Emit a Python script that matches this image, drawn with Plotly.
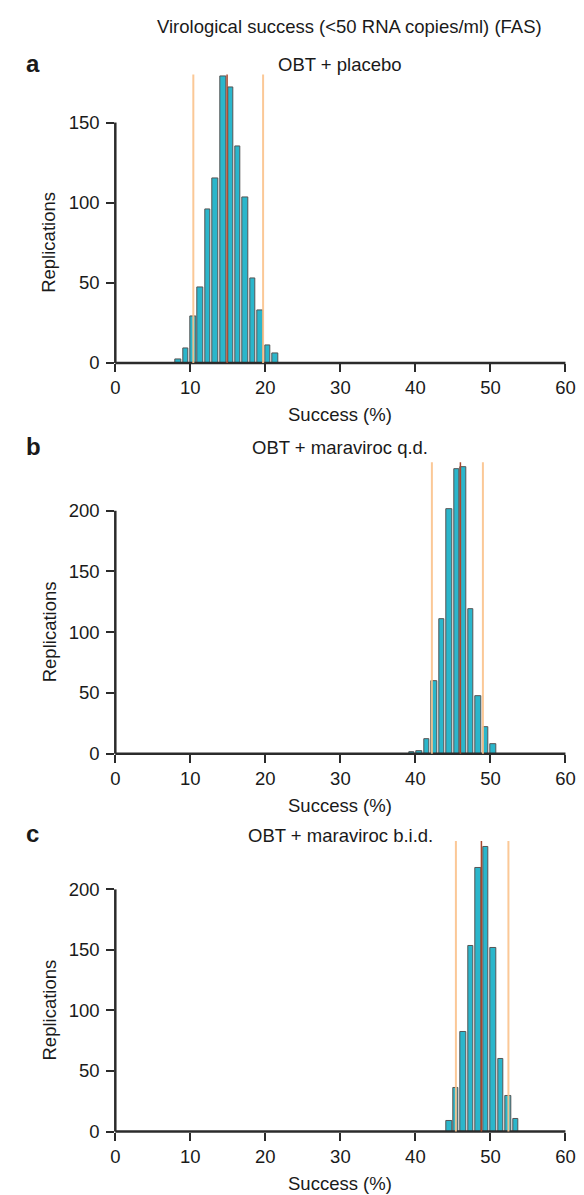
import plotly.graph_objects as go

# ---- data ----
# Panel a: OBT + placebo
a_success = [8.4, 9.4, 10.4, 11.3, 12.3, 13.3, 14.4, 15.4, 16.3, 17.3, 18.3, 19.3, 20.3, 21.3]
a_reps = [2, 9, 29, 47, 96, 115, 179, 172, 135, 103, 53, 33, 11, 6]
a_ci = [10.4, 19.7]
a_mean = 14.9

# Panel b: OBT + maraviroc q.d.
b_success = [39.5, 40.5, 41.5, 42.5, 43.5, 44.5, 45.5, 46.4, 47.4, 48.4, 49.4, 50.4]
b_reps = [1, 2, 12, 60, 111, 201, 234, 236, 119, 47, 22, 8]
b_ci = [42.2, 49.0]
b_mean = 46.0

# Panel c: OBT + maraviroc b.i.d.
c_success = [44.5, 45.4, 46.4, 47.4, 48.4, 49.4, 50.4, 51.4, 52.4, 53.4]
c_reps = [9, 36, 82, 153, 218, 235, 152, 60, 29, 10]
c_ci = [45.4, 52.4]
c_mean = 48.8

panel_titles = ["OBT + placebo", "OBT + maraviroc q.d.", "OBT + maraviroc b.i.d."]
panel_letters = ["a", "b", "c"]
main_title = "Virological success (<50 RNA copies/ml) (FAS)"
x_ticks = [0, 10, 20, 30, 40, 50, 60]
y_ticks_a = [0, 50, 100, 150]
y_ticks_bc = [0, 50, 100, 150, 200]
x_title = "Success (%)"
y_title = "Replications"

# ---- styling / layout ----
W, H = 584, 1195
FONT = "Liberation Sans, Arial, Helvetica, sans-serif"
FS = 18.5
TXT = "#1a1a1a"
AX = "#2b2b2b"
BAR = "#2ab6cb"
BAR_EDGE = "#555555"
ORANGE = "#fbc38c"
RED = "#a8472d"

xdom = [105 / W, 567 / W]
# pixel top/bottom of each plot area
panels_px = [(67, 358), (458, 752), (840, 1133)]
# pixel baselines of panel titles / letters
title_base_px = [63, 449, 840]

panels = [
    (a_success, a_reps, a_ci, a_mean, 180, y_ticks_a),
    (b_success, b_reps, b_ci, b_mean, 240, y_ticks_bc),
    (c_success, c_reps, c_ci, c_mean, 240, y_ticks_bc),
]

fig = go.Figure()
shapes = []
annotations = []

def py(p):
    return 1 - p / H

for i, (xs, ys, ci, mean, ymax, yticks) in enumerate(panels):
    n = "" if i == 0 else str(i + 1)
    xa, ya = "x" + n, "y" + n
    top, bot = panels_px[i]
    fig.add_trace(go.Bar(
        x=xs, y=ys, width=0.74, xaxis=xa, yaxis=ya,
        marker=dict(color=BAR, line=dict(color=BAR_EDGE, width=1)),
        showlegend=False, hoverinfo="x+y",
    ))
    axis_common = dict(ticks="outside", tickwidth=2, tickcolor=AX, ticklen=8,
                       showgrid=False, zeroline=False, showline=False,
                       tickfont=dict(family=FONT, size=FS, color=TXT))
    fig.layout["xaxis" + n] = dict(domain=xdom, range=[0, 60], tickvals=x_ticks,
                                   anchor=ya, ticklabelstandoff=0, **axis_common)
    fig.layout["yaxis" + n] = dict(domain=[py(bot), py(top)], range=[0, ymax],
                                   tickvals=yticks, anchor=xa, ticklabelstandoff=3,
                                   **axis_common)
    # axis lines spanning the tick range only
    shapes.append(dict(type="line", xref=xa + " domain", yref=ya + " domain",
                       x0=0, x1=1, y0=0, y1=0, line=dict(color=AX, width=2.5)))
    shapes.append(dict(type="line", xref=xa + " domain", yref=ya + " domain",
                       x0=0, x1=0, y0=0, y1=max(yticks) / ymax,
                       line=dict(color=AX, width=2.5)))
    # CI lines and mean line
    for c in ci:
        shapes.append(dict(type="line", xref=xa, yref=ya + " domain", x0=c, x1=c,
                           y0=0, y1=1, line=dict(color=ORANGE, width=2), opacity=0.9))
    shapes.append(dict(type="line", xref=xa, yref=ya + " domain", x0=mean, x1=mean,
                       y0=0, y1=1, line=dict(color=RED, width=1.5)))
    # texts (positioned by baseline: centre = baseline - 0.3 em)
    tb = title_base_px[i]
    annotations.append(dict(text=panel_titles[i], xref="paper", yref="paper",
                            x=(xdom[0] + xdom[1]) / 2, y=py(tb - 0.3 * FS), xanchor="center",
                            yanchor="middle", showarrow=False,
                            font=dict(family=FONT, size=FS, color=TXT)))
    annotations.append(dict(text="<b>" + panel_letters[i] + "</b>", xref="paper", yref="paper",
                            x=11 / W, y=py(tb - 0.3 * 24), xanchor="left", yanchor="middle",
                            showarrow=False, font=dict(family=FONT, size=24, color=TXT)))
    annotations.append(dict(text=x_title, xref="paper", yref="paper",
                            x=(xdom[0] + xdom[1]) / 2, y=py(bot + 52), xanchor="center",
                            yanchor="middle", showarrow=False,
                            font=dict(family=FONT, size=FS, color=TXT)))
    ytop_px = bot - (bot - top) * max(yticks) / ymax
    annotations.append(dict(text=y_title, xref="paper", yref="paper", textangle=-90,
                            x=37 / W, y=py((ytop_px + bot) / 2), xanchor="center",
                            yanchor="middle", showarrow=False,
                            font=dict(family=FONT, size=FS, color=TXT)))

annotations.append(dict(text=main_title, xref="paper", yref="paper",
                        x=345 / W, y=py(19), xanchor="center", yanchor="middle",
                        showarrow=False, font=dict(family=FONT, size=FS, color=TXT)))

fig.update_layout(
    width=W, height=H, margin=dict(l=0, r=0, t=0, b=0),
    paper_bgcolor="white", plot_bgcolor="white",
    shapes=shapes, annotations=annotations, bargap=0,
)

fig.write_html("out.html")
